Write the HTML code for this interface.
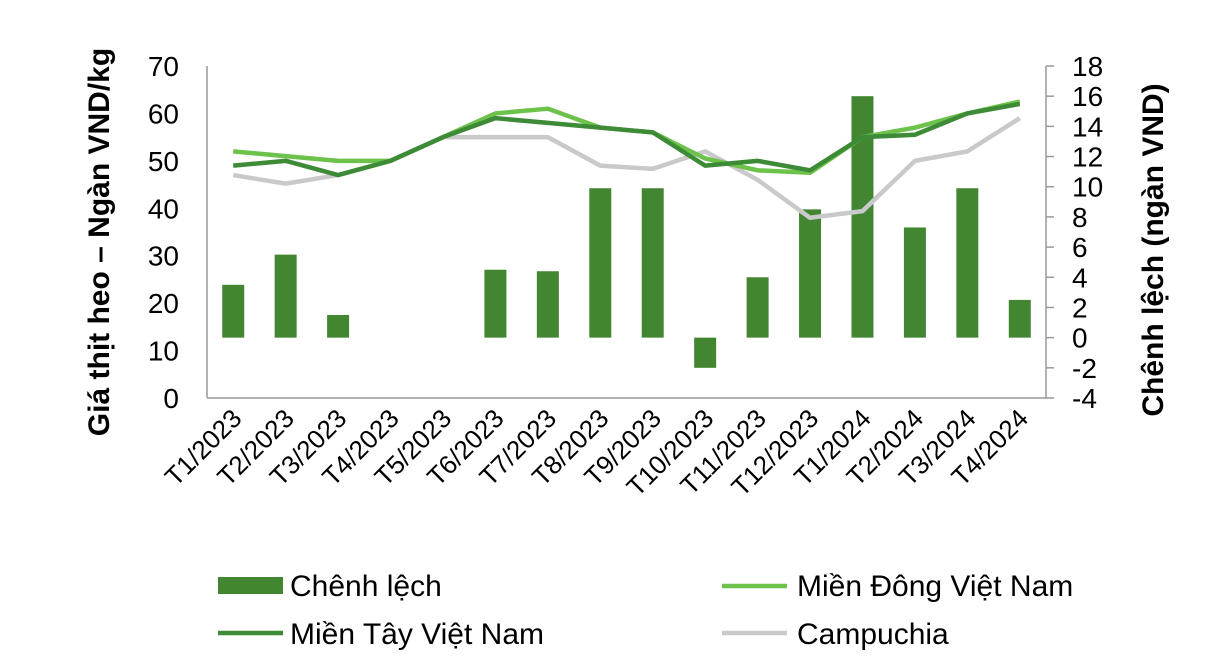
<!DOCTYPE html>
<html><head><meta charset="utf-8"><style>
body{margin:0;background:#fff;font-family:"Liberation Sans",sans-serif;}
svg text{font-family:"Liberation Sans",sans-serif;fill:#000;}
</style></head><body>
<svg width="1224" height="660" viewBox="0 0 1224 660">
<g id="chart"></g>
</svg>
<script>
const categories=["T1/2023","T2/2023","T3/2023","T4/2023","T5/2023","T6/2023","T7/2023","T8/2023","T9/2023","T10/2023","T11/2023","T12/2023","T1/2024","T2/2024","T3/2024","T4/2024"];
const diffValues=[3.5,5.5,1.5,0,0,4.5,4.4,9.9,9.9,-2,4,8.5,16,7.3,9.9,2.5];
const eastValues=[52,51,50,50,55,60,61,57,56,50.5,48,47.5,55,57,60,62.5];
const westValues=[49,50,47,50,55,59,58,57,56,49,50,48,55,55.5,60,62];
const camValues=[47,45.2,47,50,55,55,55,49,48.3,52,46,38,39.4,50,52,59];
const leftTicks=[0,10,20,30,40,50,60,70];
const rightTicks=[-4,-2,0,2,4,6,8,10,12,14,16,18];
const NS="http://www.w3.org/2000/svg";
const g=document.getElementById('chart');
const X0=207,X1=1046,YT=66,YB=398;
const step=(X1-X0)/categories.length;
const xc=i=>X0+step*(i+0.5);
const yL=v=>YB-(v/70)*(YB-YT);
const yR=v=>YB-((v+4)/22)*(YB-YT);
function mk(tag,attrs){const e=document.createElementNS(NS,tag);for(const k in attrs)e.setAttribute(k,attrs[k]);g.appendChild(e);return e;}
let e;
e=mk('line',{x1:X0,y1:YT,x2:X0,y2:YB,stroke:'#999','stroke-width':1.5});


e=mk('line',{x1:X1,y1:YT,x2:X1,y2:YB,stroke:'#999','stroke-width':1.5});


e=mk('line',{x1:X0,y1:YB,x2:X1,y2:YB,stroke:'#999','stroke-width':1.5});


leftTicks.forEach(v=>{const t=mk('text',{x:179,y:yL(v)+10,'text-anchor':'end','font-size':28});t.textContent=v;

});
rightTicks.forEach(v=>{const t=mk('line',{x1:X1,y1:yR(v),x2:X1+8,y2:yR(v),stroke:'#999','stroke-width':1.5});


const l=mk('text',{x:1072,y:yR(v)+10,'font-size':28});l.textContent=v;

});
diffValues.forEach((v,i)=>{if(v===0)return;const y0=yR(0),y1=yR(v);
const r=mk('rect',{x:xc(i)-11,y:Math.min(y0,y1),width:22,height:Math.abs(y1-y0),fill:'#438632'});

});
function line(vals,color,name){const p=mk('polyline',{points:vals.map((v,i)=>xc(i)+','+yL(v)).join(' '),fill:'none',stroke:color,'stroke-width':4.5,'stroke-linejoin':'round'});

}
line(camValues,'#c9c9c9','line-campuchia');
line(eastValues,'#6cc24a','line-mien-dong');
line(westValues,'#3d8b37','line-mien-tay');
categories.forEach((c,i)=>{const t=mk('text',{x:xc(i)+10,y:420,'text-anchor':'end','font-size':26,transform:`rotate(-45 ${xc(i)+10} 420)`});t.textContent=c;

});
e=mk('text',{x:0,y:0,'text-anchor':'middle','font-size':30,'font-weight':'bold',transform:'translate(109 242) rotate(-90)'});e.textContent='Giá thịt heo – Ngàn VND/kg';


e=mk('text',{x:0,y:0,'text-anchor':'middle','font-size':30,'font-weight':'bold',transform:'translate(1163 250) rotate(-90)'});e.textContent='Chênh lệch (ngàn VND)';


// legend
e=mk('rect',{x:218,y:577,width:65,height:17,fill:'#438632'});


e=mk('text',{x:290,y:596,'font-size':30});e.textContent='Chênh lệch';


e=mk('line',{x1:722,y1:586,x2:787,y2:586,stroke:'#6cc24a','stroke-width':4.5});


e=mk('text',{x:797,y:596,'font-size':30});e.textContent='Miền Đông Việt Nam';


e=mk('line',{x1:218,y1:633,x2:283,y2:633,stroke:'#3d8b37','stroke-width':4.5});


e=mk('text',{x:290,y:644,'font-size':30});e.textContent='Miền Tây Việt Nam';


e=mk('line',{x1:722,y1:633,x2:787,y2:633,stroke:'#c9c9c9','stroke-width':4.5});


e=mk('text',{x:797,y:644,'font-size':30});e.textContent='Campuchia';


</script>
</body></html>
